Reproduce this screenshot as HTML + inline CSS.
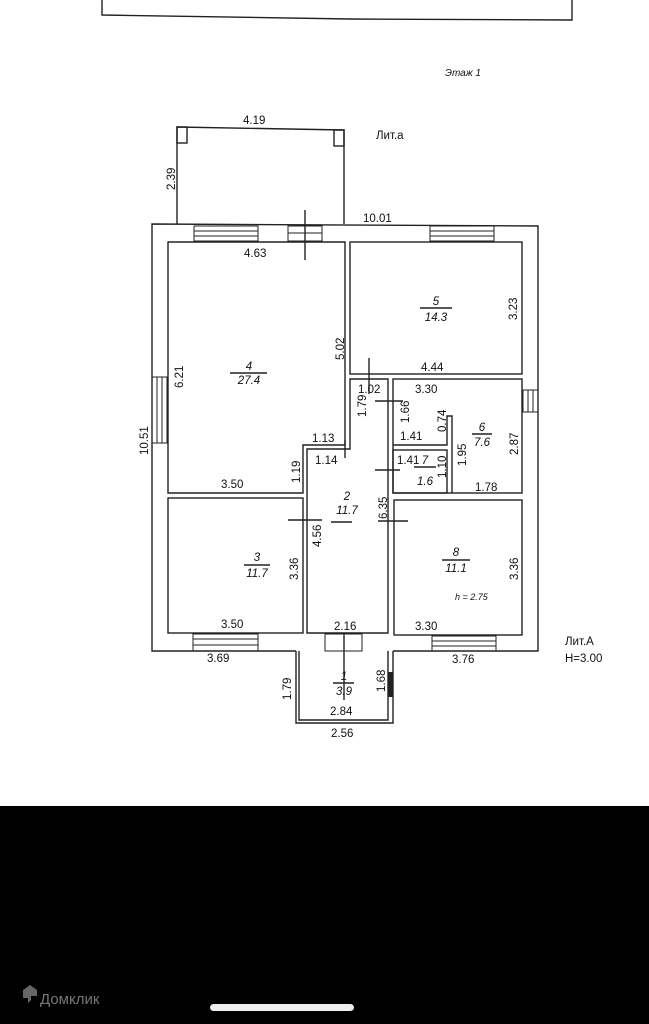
<!DOCTYPE html>
<html><head><meta charset="utf-8"><style>
html,body{margin:0;padding:0;background:#fff;width:649px;height:1024px;overflow:hidden}
svg{display:block}
text{font-family:"Liberation Sans",sans-serif;font-size:11.5px;fill:#111}
.i{font-style:italic;font-size:12.5px}
</style></head><body>
<svg width="649" height="1024" viewBox="0 0 649 1024">
<g fill="none" stroke="#222" stroke-width="1.4">
<polyline points="102,0 102,15 350,19 572,20 572,0"/>
<polyline points="177,224 177,127 344,130 344,224"/>
<rect x="177" y="127" width="10" height="16"/><rect x="334" y="130" width="10" height="16"/>
<polyline points="296,651 152,651 152,224 538,226 538,651 393,651"/>
<polyline points="299,651 299,720 388,720 388,651"/>
<polyline points="296,651 296,723 393,723 393,651"/>
<polygon points="168,242 345,242 345,445 303,445 303,493 168,493"/>
<rect x="350" y="242" width="172" height="132"/>
<polygon points="350,379 388,379 388,633 307,633 307,449 350,449"/>
<rect x="393" y="379" width="129" height="114"/>
<polyline points="393,445 447,445 447,416 452,416 452,493"/>
<rect x="393" y="450" width="54" height="43"/>
<rect x="168" y="498" width="135" height="135"/>
<rect x="394" y="500" width="128" height="135"/>
<g stroke-width="1">
<rect x="194" y="226" width="64" height="15"/><line x1="194" y1="231" x2="258" y2="231"/><line x1="194" y1="236" x2="258" y2="236"/>
<rect x="430" y="226" width="64" height="15"/><line x1="430" y1="231" x2="494" y2="231"/><line x1="430" y1="236" x2="494" y2="236"/>
<rect x="288" y="226" width="34" height="15"/><line x1="288" y1="233" x2="322" y2="233"/>
<rect x="152" y="377" width="15" height="66"/><line x1="157" y1="377" x2="157" y2="443"/><line x1="162" y1="377" x2="162" y2="443"/>
<rect x="523" y="390" width="15" height="22"/><line x1="528" y1="390" x2="528" y2="412"/><line x1="533" y1="390" x2="533" y2="412"/>
<rect x="193" y="634" width="65" height="17"/><line x1="193" y1="639" x2="258" y2="639"/><line x1="193" y1="645" x2="258" y2="645"/>
<rect x="432" y="636" width="64" height="15"/><line x1="432" y1="641" x2="496" y2="641"/><line x1="432" y1="646" x2="496" y2="646"/>
<rect x="325" y="634" width="37" height="17"/>
</g>
<line x1="305" y1="210" x2="305" y2="260"/>
<line x1="369" y1="358" x2="369" y2="394"/>
<line x1="375" y1="401" x2="403" y2="401"/>
<line x1="375" y1="470" x2="400" y2="470"/>
<line x1="288" y1="520" x2="322" y2="520"/>
<line x1="378" y1="521" x2="408" y2="521"/>
<line x1="345" y1="440" x2="345" y2="458"/>
<line x1="344" y1="633" x2="344" y2="700"/>
<line x1="230" y1="373" x2="267" y2="373"/><line x1="420" y1="308" x2="452" y2="308"/>
<line x1="244" y1="565" x2="270" y2="565"/><line x1="442" y1="560" x2="470" y2="560"/>
<line x1="331" y1="522" x2="352" y2="522"/><line x1="414" y1="467" x2="436" y2="467"/>
<line x1="472" y1="434" x2="492" y2="434"/><line x1="333" y1="683" x2="354" y2="683"/>
</g>
<rect x="388" y="672" width="5" height="25" fill="#222"/>
<text x="445" y="76" class="i" style="font-size:10px">Этаж 1</text>
<text x="376" y="139">Лит.а</text>
<text x="243" y="124">4.19</text>
<text x="363" y="222">10.01</text>
<text x="244" y="257">4.63</text>
<text x="421" y="371">4.44</text>
<text x="358" y="393">1.02</text>
<text x="415" y="393">3.30</text>
<text x="400" y="440">1.41</text>
<text x="397" y="464">1.41</text>
<text x="312" y="442">1.13</text>
<text x="315" y="464">1.14</text>
<text x="221" y="488">3.50</text>
<text x="475" y="491">1.78</text>
<text x="221" y="628">3.50</text>
<text x="334" y="630">2.16</text>
<text x="415" y="630">3.30</text>
<text x="207" y="662">3.69</text>
<text x="452" y="663">3.76</text>
<text x="330" y="715">2.84</text>
<text x="331" y="737">2.56</text>
<text x="565" y="645">Лит.А</text>
<text x="565" y="662">H=3.00</text>
<text x="455" y="600" class="i" style="font-size:9px">h = 2.75</text>
<g class="i" text-anchor="middle">
<text x="249" y="370">4</text><text x="249" y="384">27.4</text>
<text x="436" y="305">5</text><text x="436" y="321">14.3</text>
<text x="347" y="500">2</text><text x="347" y="514">11.7</text>
<text x="257" y="561">3</text><text x="257" y="577">11.7</text>
<text x="456" y="556">8</text><text x="456" y="572">11.1</text>
<text x="482" y="431">6</text><text x="482" y="446">7.6</text>
<text x="425" y="464">7</text><text x="425" y="485">1.6</text>
<text x="344" y="680">1</text><text x="344" y="695">3.9</text>
</g>
<g>
<text transform="translate(175,190) rotate(-90)">2.39</text>
<text transform="translate(148,455) rotate(-90)">10.51</text>
<text transform="translate(183,388) rotate(-90)">6.21</text>
<text transform="translate(344,360) rotate(-90)">5.02</text>
<text transform="translate(517,320) rotate(-90)">3.23</text>
<text transform="translate(366,417) rotate(-90)">1.79</text>
<text transform="translate(409,423) rotate(-90)">1.66</text>
<text transform="translate(446,432) rotate(-90)">0.74</text>
<text transform="translate(466,466) rotate(-90)">1.95</text>
<text transform="translate(518,455) rotate(-90)">2.87</text>
<text transform="translate(446,478) rotate(-90)">1.10</text>
<text transform="translate(300,483) rotate(-90)">1.19</text>
<text transform="translate(387,519) rotate(-90)">6.35</text>
<text transform="translate(321,547) rotate(-90)">4.56</text>
<text transform="translate(298,580) rotate(-90)">3.36</text>
<text transform="translate(518,580) rotate(-90)">3.36</text>
<text transform="translate(291,700) rotate(-90)">1.79</text>
<text transform="translate(385,692) rotate(-90)">1.68</text>
</g>
<rect x="0" y="806" width="649" height="218" fill="#000"/>
<path d="M23,998 L23,990 L30,985 L37,990 L37,996 L31,996 L31,1000 L28,1003 L28,998 Z" fill="#666"/>
<text x="40" y="1004" style="fill:#777;font-size:15px">Домклик</text>
<rect x="210" y="1004" width="144" height="7" rx="3.5" fill="#eee"/>
</svg>
</body></html>
